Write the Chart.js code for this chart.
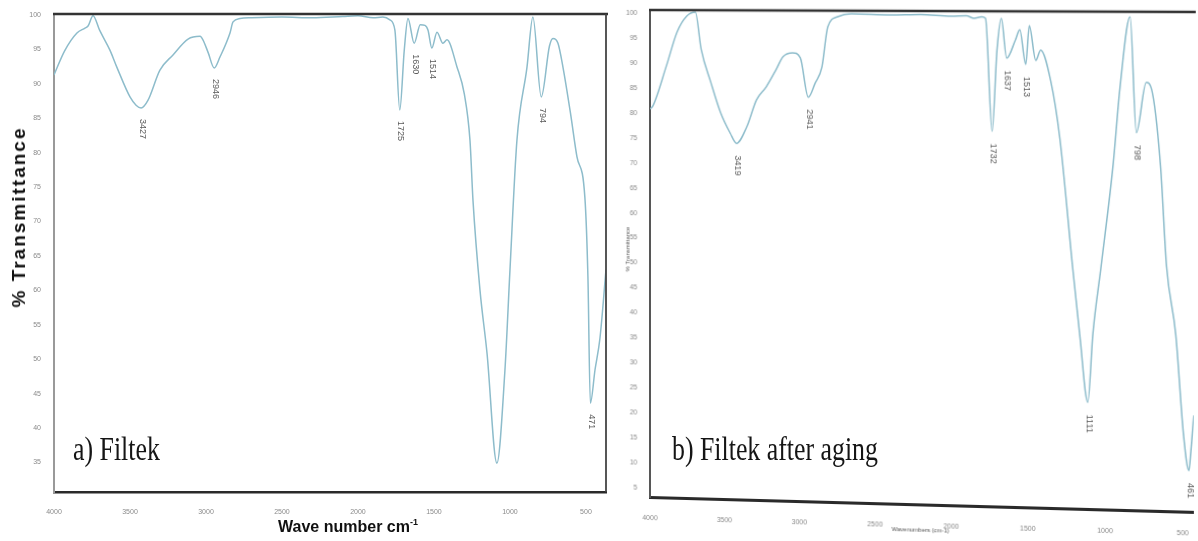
<!DOCTYPE html>
<html>
<head>
<meta charset="utf-8">
<script src="https://cdn.jsdelivr.net/npm/chart.js@4.4.1/dist/chart.umd.min.js"></script>
<style>
  html, body { margin: 0; padding: 0; background: #fff; overflow: hidden; width: 1198px; height: 541px; }
  #wrapA { position: absolute; left: 0; top: 0; width: 610px; height: 541px; }
  #wrapB { position: absolute; left: 610px; top: 0; width: 588px; height: 541px; transform-origin: 0 0; }
  canvas { display: block; }
  .ptitle { position: absolute; font-family: 'Liberation Serif', 'Times New Roman', serif; font-size: 34px;
            line-height: 34px; color: #151515; white-space: nowrap; transform-origin: 0 0; transform: scaleX(0.76); }
  #ytitleA { position: absolute; left: 19px; top: 217px; font-family: 'Liberation Sans', Arial, sans-serif;
             font-weight: bold; font-size: 19px; letter-spacing: 2px; color: #111; white-space: nowrap;
             transform: translate(-50%, -50%) rotate(-90deg); }
  #xtitleA { position: absolute; left: 348px; top: 519px; font-family: 'Liberation Sans', Arial, sans-serif;
             font-weight: bold; font-size: 16px; line-height: 16px; color: #111; white-space: nowrap;
             transform: translateX(-50%); }
  #xtitleA sup { font-size: 9px; vertical-align: 7px; line-height: 0; }
</style>
</head>
<body>
<div id="wrapA"><canvas id="chartA" width="610" height="541"></canvas></div>
<div id="wrapB"><canvas id="chartB" width="588" height="541"></canvas></div>
<div class="ptitle" style="left:73px; top:432px;">a) Filtek</div>
<div class="ptitle" style="left:672px; top:432px;">b) Filtek after aging</div>
<div id="ytitleA">% Transmittance</div>
<div id="xtitleA">Wave number cm<sup>-1</sup></div>

<script>
// ---- Spectrum a) Filtek ----
const wavenumberA = [4000, 3930, 3849, 3796, 3776, 3743, 3700, 3632, 3586, 3500, 3460, 3427, 3382, 3303, 3217,
  3118, 3039, 3020, 2985, 2946, 2908, 2842, 2822, 2776, 2700, 2500, 2300, 2100, 2000, 1900, 1836, 1790, 1757,
  1725, 1695, 1671, 1630, 1590, 1559, 1539, 1514, 1480, 1441, 1414, 1349, 1300, 1263, 1243, 1197, 1151, 1086,
  1033, 1000, 954, 888, 849, 794, 740, 717, 684, 651, 600, 559, 507, 487, 471, 440, 408, 368];
const transmittanceA = [91.3, 94.8, 97.4, 98.1, 98.4, 99.9, 97.8, 94.9, 92.4, 88.1, 86.9, 86.5, 87.6, 92.0, 94.2,
  96.5, 96.9, 96.4, 94.5, 92.3, 93.9, 97.4, 99.0, 99.5, 99.6, 99.7, 99.6, 99.8, 99.9, 99.6, 99.7, 99.3, 97.8,
  86.2, 95.0, 99.5, 95.9, 98.6, 98.5, 97.8, 95.2, 97.5, 95.9, 96.4, 92.5, 88.5, 81.8, 73.0, 60.0, 50.9, 34.9,
  48.4, 62.9, 81.8, 92.4, 99.7, 88.1, 95.5, 96.6, 95.9, 92.4, 85.5, 79.4, 73.5, 62.0, 43.6, 48.5, 53.0, 63.0];
const peakLabelsA = [3427, 2946, 1725, 1630, 1514, 794, 471];

// ---- Spectrum b) Filtek after aging ----
const wavenumberB = [4000, 3981, 3890, 3818, 3753, 3695, 3656, 3591, 3526, 3461, 3419, 3351, 3286, 3221, 3156,
  3110, 3045, 2994, 2941, 2896, 2851, 2812, 2747, 2656, 2400, 2200, 2000, 1900, 1850, 1800, 1775, 1732, 1700,
  1672, 1637, 1580, 1552, 1513, 1490, 1448, 1416, 1351, 1292, 1208, 1162, 1111, 1078, 1026, 948, 903, 838,
  798, 734, 701, 643, 604, 545, 494, 461, 448, 430];
const transmittanceB = [80.8, 81.4, 89.4, 96.2, 99.4, 100.2, 92.8, 86.2, 80.2, 76.1, 74.1, 77.4, 82.8, 85.4, 88.8,
  91.4, 92.2, 91.2, 83.4, 86.2, 89.4, 97.4, 99.4, 100.0, 99.8, 99.9, 99.6, 99.7, 99.2, 99.5, 99.2, 77.0, 93.0,
  99.2, 91.4, 95.0, 97.0, 90.2, 97.8, 91.0, 93.0, 87.0, 75.8, 50.2, 37.0, 24.1, 37.5, 50.5, 70.5, 85.8, 99.6,
  77.0, 86.8, 85.6, 70.7, 51.0, 37.7, 17.8, 11.2, 15.0, 22.0];
const peakLabelsB = [3419, 2941, 1732, 1637, 1513, 1111, 798, 461];

// ---- Axis ticks ----
const xTicks = [4000, 3500, 3000, 2500, 2000, 1500, 1000, 500];
const yTicksA = [35, 40, 45, 50, 55, 60, 65, 70, 75, 80, 85, 90, 95, 100];
const yTicksB = [5, 10, 15, 20, 25, 30, 35, 40, 45, 50, 55, 60, 65, 70, 75, 80, 85, 90, 95, 100];

const lineColor = '#8dbccb';
const tickFont = { family: "'Liberation Sans', Arial, sans-serif", size: 7 };

function toPoints(xs, ys) { return xs.map((x, i) => ({ x: x, y: ys[i] })); }

// Frame lines and rotated peak labels
function framePlugin(opts) {
  return {
    id: 'frame' + opts.name,
    afterDatasetsDraw(chart) {
      const { ctx, chartArea: a, scales } = chart;
      ctx.save();
      ctx.strokeStyle = '#333';
      ctx.lineWidth = 2.5;
      ctx.beginPath();
      ctx.moveTo(a.left - 1, a.top);
      ctx.lineTo(a.right + 2, a.top);
      ctx.stroke();
      if (opts.rightBorder) {
        ctx.lineWidth = 1.8;
        ctx.strokeStyle = '#444';
        ctx.beginPath();
        ctx.moveTo(a.right, a.top);
        ctx.lineTo(a.right, a.bottom);
        ctx.stroke();
      }
      // peak labels read from the dataset
      const pts = chart.data.datasets[0].data;
      ctx.fillStyle = '#5a5a5a';
      ctx.font = "9px 'Liberation Sans', Arial, sans-serif";
      ctx.textAlign = 'left';
      ctx.textBaseline = 'middle';
      opts.peaks.forEach(wn => {
        const p = pts.find(d => d.x === wn);
        if (!p) return;
        const px = scales.x.getPixelForValue(p.x);
        const py = scales.y.getPixelForValue(p.y);
        ctx.save();
        ctx.translate(px + 1, py + opts.labelGap);
        ctx.rotate(Math.PI / 2);
        ctx.fillText(String(wn), 0, 0);
        ctx.restore();
      });
      if (opts.smallTitles) {
        ctx.fillStyle = '#555';
        ctx.font = "6px 'Liberation Sans', Arial, sans-serif";
        ctx.textAlign = 'center';
        ctx.save();
        ctx.translate(17, 250);
        ctx.rotate(-Math.PI / 2);
        ctx.fillText('% Transmittance', 0, 0);
        ctx.restore();
        ctx.fillText('Wavenumbers (cm-1)', 314, 522);
      }
      ctx.restore();
    }
  };
}

function makeChart(id, xs, ys, cfg) {
  return new Chart(document.getElementById(id), {
    type: 'line',
    data: {
      datasets: [{
        data: toPoints(xs, ys),
        borderColor: lineColor,
        borderWidth: 1.5,
        pointRadius: 0,
        fill: false,
        cubicInterpolationMode: 'monotone'
      }]
    },
    options: {
      responsive: false,
      animation: false,
      devicePixelRatio: 1,
      layout: { padding: cfg.padding },
      plugins: { legend: { display: false }, tooltip: { enabled: false } },
      scales: {
        x: {
          type: 'linear',
          reverse: true,
          min: cfg.xMin,
          max: 4000,
          grid: { display: false },
          border: { display: true, color: '#2a2a2a', width: cfg.xBorder },
          ticks: { font: tickFont, color: '#8a8a8a', padding: cfg.xTickPad, maxRotation: 0, autoSkip: false,
                   callback: v => String(v) },
          afterBuildTicks: s => { s.ticks = xTicks.map(v => ({ value: v })); },
          afterFit: s => { s.height = cfg.xHeight; }
        },
        y: {
          type: 'linear',
          min: cfg.yMin,
          max: cfg.yMax,
          grid: { display: false },
          border: { display: true, color: cfg.yBorderColor, width: 2 },
          ticks: { font: tickFont, color: '#8a8a8a', padding: 5, autoSkip: false, callback: v => String(v) },
          afterBuildTicks: s => { s.ticks = cfg.yTicks.map(v => ({ value: v })); },
          afterFit: s => { s.width = cfg.yWidth; }
        }
      }
    },
    plugins: [framePlugin(cfg.frame)]
  });
}

makeChart('chartA', wavenumberA, transmittanceA, {
  padding: { top: 14, right: 4, left: 0, bottom: 0 },
  xMin: 368, yMin: 30.7, yMax: 100.15,
  xHeight: 49, yWidth: 54, xTickPad: 8, xBorder: 2.5,
  yBorderColor: '#999', yTicks: yTicksA,
  frame: { name: 'A', rightBorder: true, peaks: peakLabelsA, labelGap: 11 }
});

makeChart('chartB', wavenumberB, transmittanceB, {
  padding: { top: 11, right: 0, left: 0, bottom: 0 },
  xMin: 430, yMin: 3.2, yMax: 100.6,
  xHeight: 44, yWidth: 40, xTickPad: 9, xBorder: 3,
  yBorderColor: '#555', yTicks: yTicksB,
  frame: { name: 'B', rightBorder: false, peaks: peakLabelsB, labelGap: 12, smallTitles: true }
});

// Perspective tilt of panel b: solve the homography mapping the plot corners
function homography(src, dst) {
  const A = [], b = [];
  for (let i = 0; i < 4; i++) {
    const [x, y] = src[i], [X, Y] = dst[i];
    A.push([x, y, 1, 0, 0, 0, -X * x, -X * y]); b.push(X);
    A.push([0, 0, 0, x, y, 1, -Y * x, -Y * y]); b.push(Y);
  }
  const n = 8;
  for (let c = 0; c < n; c++) {
    let p = c;
    for (let r = c + 1; r < n; r++) if (Math.abs(A[r][c]) > Math.abs(A[p][c])) p = r;
    [A[c], A[p]] = [A[p], A[c]]; [b[c], b[p]] = [b[p], b[c]];
    for (let r = 0; r < n; r++) {
      if (r === c) continue;
      const f = A[r][c] / A[c][c];
      for (let k = c; k < n; k++) A[r][k] -= f * A[c][k];
      b[r] -= f * b[c];
    }
  }
  return b.map((v, i) => v / A[i][i]);
}
const h = homography(
  [[40, 11], [588, 11], [40, 497], [588, 497]],
  [[40, 10], [588, 12], [40, 497], [588, 512]]
);
document.getElementById('wrapB').style.transform =
  `matrix3d(${h[0]},${h[3]},0,${h[6]},${h[1]},${h[4]},0,${h[7]},0,0,1,0,${h[2]},${h[5]},0,1)`;
</script>
</body>
</html>
